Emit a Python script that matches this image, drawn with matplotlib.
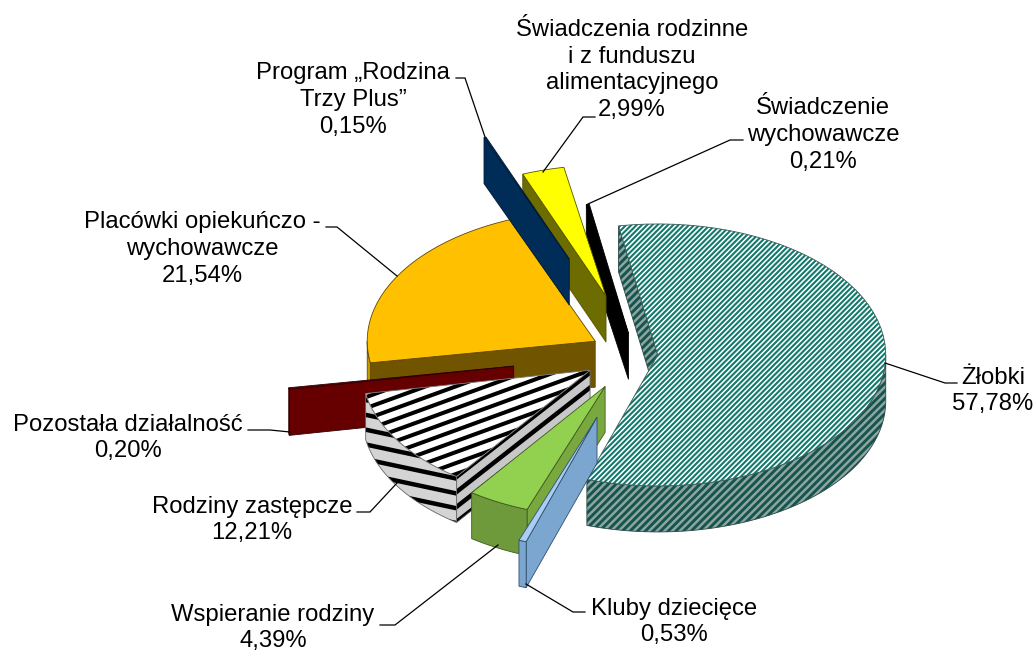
import numpy as np
import matplotlib
matplotlib.use("Agg")
import matplotlib.pyplot as plt
from matplotlib.patches import Polygon
from matplotlib.collections import LineCollection

plt.rcParams['font.family'] = ['Liberation Sans', 'DejaVu Sans']

labels = ["Żłobki", "Kluby dziecięce", "Wspieranie rodziny", "Rodziny zastępcze",
          "Pozostała działalność", "Placówki opiekuńczo -\nwychowawcze",
          "Program „Rodzina\nTrzy Plus”",
          "Świadczenia rodzinne\ni z funduszu\nalimentacyjnego",
          "Świadczenie\nwychowawcze"]
values = [57.78, 0.53, 4.39, 12.21, 0.20, 21.54, 0.15, 2.99, 0.21]

# how far each slice is pulled out of the pie
explode = [0.10, 0.51, 0.28, 0.233, 0.54, 0.20, 0.78, 0.46, 0.16]

top_colors = ['#ffffff', '#a9cdf4', '#92d050', '#ffffff', '#660000', '#ffc000', '#002c58', '#ffff00', '#000000']
wall_colors = ['#8fa5a2', '#7ba6d0', '#79a83e', '#cfcfcf', '#660000', '#705400', '#002c58', '#6c6c00', '#000000']
arc_colors = ['#8fa5a2', '#7ba6d0', '#6f9a3c', '#d4d4d4', '#660000', '#c49a00', '#002c58', '#6c6c00', '#000000']
edge_colors = ['#3a5a56', '#2f4f6f', '#3f5a20', '#555555', '#300000', '#5f4800', '#001a35', '#555500', '#000000']

# back to front
draw_order = [0, 8, 7, 5, 6, 4, 3, 2, 1]

# pie geometry in pixels
CX, CY = 635, 354
RX, RY = 228, 131
DEPTH = 46
START = -9.9

label_pos = [(993, 391), (674, 622), (273, 628), (252, 520), (128, 438),
             (202, 249), (353, 100), (632, 70), (823, 135)]
leaders = [[(885, 363), (945, 383), (957, 383)],
           [(526, 584), (573, 612), (585, 612)],
           [(498, 545), (395, 625), (380, 625)],
           [(397, 483), (370, 512), (357, 512)],
           [(290, 432), (270, 430), (248, 430)],
           [(397, 276), (337, 227), (326, 227)],
           [(485, 137), (465, 78), (456, 78)],
           [(543, 172), (583, 117), (595, 117)],
           [(588, 204), (730, 140), (743, 140)]]

fig = plt.figure(figsize=(10.35, 6.51), dpi=100)
ax = fig.add_axes([0, 0, 1, 1])
ax.set_xlim(0, 1035)
ax.set_ylim(651, 0)
ax.axis('off')


def rim(apex, t0, t1, n=60):
    t = np.radians(np.linspace(t0, t1, n))
    return np.column_stack([apex[0] + RX * np.sin(t), apex[1] - RY * np.cos(t)])


def stripes(verts, angle, period, lw, color, bg, edge, zo):
    patch = Polygon(verts, closed=True, facecolor=bg, edgecolor='none', zorder=zo)
    ax.add_patch(patch)
    a = np.radians(angle)
    d = np.array([np.cos(a), -np.sin(a)])
    n = np.array([np.sin(a), np.cos(a)])
    mid = verts.mean(axis=0)
    span = np.ptp(verts, axis=0).sum() + 50
    segs = [[mid + n * k - d * span, mid + n * k + d * span]
            for k in np.arange(-span, span, period)]
    lc = LineCollection(segs, colors=color, linewidths=lw, zorder=zo)
    ax.add_collection(lc)
    lc.set_clip_path(patch)
    ax.add_patch(Polygon(verts, closed=True, fill=False, edgecolor=edge, linewidth=0.6, zorder=zo))


def wall_quad(p, q):
    return np.array([p, q, q + [0, DEPTH], p + [0, DEPTH]])


def draw_face(i, verts, color, zo, kind):
    if i == 0:
        if kind == 'top':
            stripes(verts, 45, 3.7, 1.5, '#12796d', '#ffffff', '#3a5a56', zo)
        else:
            stripes(verts, 45, 5.4, 2.1, '#16544e', '#8fa5a2', '#2c4a46', zo)
    elif i == 3:
        if kind == 'top':
            stripes(verts, 20, 10.3, 2.9, '#000000', '#ffffff', '#777777', zo)
        elif kind == 'wall':
            stripes(verts, 38, 11.8, 3.2, '#000000', '#c8c8c8', '#666666', zo)
        else:
            stripes(verts, -12, 14.5, 3.2, '#000000', '#d4d4d4', '#666666', zo)
    else:
        ax.add_patch(Polygon(verts, closed=True, facecolor=color, edgecolor=edge_colors[i],
                             linewidth=0.6, zorder=zo))


spans = np.array(values) / sum(values) * 360
ends = START + np.cumsum(spans)
starts = ends - spans

for z, i in enumerate(draw_order):
    t0, t1 = starts[i], ends[i]
    mid = np.radians((t0 + t1) / 2)
    apex = np.array([CX + explode[i] * RX * np.sin(mid), CY - explode[i] * RY * np.cos(mid)])
    zo = 2 + z * 5

    # radial walls, only those which face the viewer
    if np.sin(np.radians(t0)) < 0:
        draw_face(i, wall_quad(apex, rim(apex, t0, t0, 1)[0]), wall_colors[i], zo, 'wall')
    if np.sin(np.radians(t1)) > 0:
        draw_face(i, wall_quad(apex, rim(apex, t1, t1, 1)[0]), wall_colors[i], zo, 'wall')

    # outer wall, front half of the rim only
    a0, a1 = max(t0, 90), min(t1, 270)
    if a1 > a0:
        edge = rim(apex, a0, a1)
        draw_face(i, np.vstack([edge, edge[::-1] + [0, DEPTH]]), arc_colors[i], zo + 1, 'arc')

    draw_face(i, np.vstack([[apex], rim(apex, t0, t1)]), top_colors[i], zo + 2, 'top')

for i, lab in enumerate(labels):
    pct = f"{values[i]:.2f}".replace('.', ',') + '%'
    ax.text(label_pos[i][0], label_pos[i][1], lab + '\n' + pct, ha='center', va='center',
            multialignment='center', fontsize=17.2, color='black', linespacing=1.285, zorder=80)
    xs, ys = zip(*leaders[i])
    ax.plot(xs, ys, color='black', linewidth=0.9, zorder=70, solid_joinstyle='miter')

fig.savefig('out.png', dpi=100)
